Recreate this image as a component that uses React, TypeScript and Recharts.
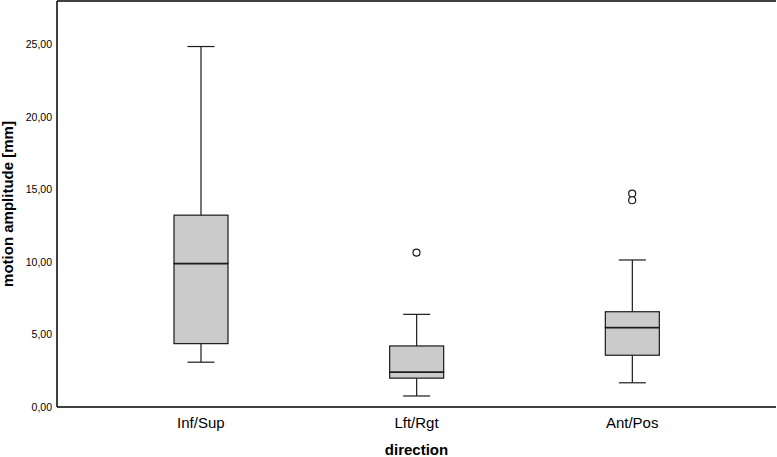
import { ComposedChart, Bar, Scatter, XAxis, YAxis, ReferenceLine } from 'recharts';

const directions: string[] = ['Inf/Sup', 'Lft/Rgt', 'Ant/Pos'];
const whiskerLow: number[] = [3.09, 0.76, 1.67];
const quartile1: number[] = [4.37, 1.99, 3.57];
const medians: number[] = [9.91, 2.42, 5.49];
const quartile3: number[] = [13.23, 4.21, 6.57];
const whiskerHigh: number[] = [24.86, 6.39, 10.14];
const outliersA: (number | null)[] = [null, 10.65, 14.72];
const outliersB: (number | null)[] = [null, null, 14.26];
const yTicks: number[] = [0, 5, 10, 15, 20, 25];
const yMax = 28;

// stacked segments: base -> lower whisker -> lower box -> upper box -> upper whisker
const chartData = directions.map((name, i) => ({
  name,
  base: whiskerLow[i],
  lowWhisker: quartile1[i] - whiskerLow[i],
  lowBox: medians[i] - quartile1[i],
  highBox: quartile3[i] - medians[i],
  highWhisker: whiskerHigh[i] - quartile3[i],
  out1: outliersA[i],
  out2: outliersB[i],
}));

const INK = '#1a1a1a';
const BOX_FILL = '#cbcbcb';

const Empty = () => <g />;

const LowWhisker = (props: any) => {
  const { x, y, width, height } = props;
  const cx = x + width / 2;
  return (
    <g>
      <line x1={cx} x2={cx} y1={y} y2={y + height} stroke={INK} strokeWidth={1.2} />
      <line x1={cx - width / 4} x2={cx + width / 4} y1={y + height} y2={y + height} stroke={INK} strokeWidth={1.2} />
    </g>
  );
};

const HighWhisker = (props: any) => {
  const { x, y, width, height } = props;
  const cx = x + width / 2;
  return (
    <g>
      <line x1={cx} x2={cx} y1={y} y2={y + height} stroke={INK} strokeWidth={1.2} />
      <line x1={cx - width / 4} x2={cx + width / 4} y1={y} y2={y} stroke={INK} strokeWidth={1.2} />
    </g>
  );
};

const LowBox = (props: any) => {
  const { x, y, width, height } = props;
  return (
    <g>
      <rect x={x} y={y} width={width} height={height} fill={BOX_FILL} stroke={INK} strokeWidth={1.2} />
      <line x1={x} x2={x + width} y1={y} y2={y} stroke={INK} strokeWidth={2.2} />
    </g>
  );
};

const HighBox = (props: any) => {
  const { x, y, width, height } = props;
  return <rect x={x} y={y} width={width} height={height} fill={BOX_FILL} stroke={INK} strokeWidth={1.2} />;
};

const Outlier = (key: 'out1' | 'out2') => (props: any) => {
  const { cx, cy, payload } = props;
  if (payload == null || payload[key] == null) return <g />;
  return <circle cx={cx} cy={cy} r={3.5} fill="#fff" stroke={INK} strokeWidth={1.2} />;
};

const fmt = (v: number) => v.toFixed(2).replace('.', ',');

const App = () => {
  return (
    <div style={{ position: 'absolute', left: 0, top: 0, fontFamily: '"Liberation Sans", Arial, sans-serif' }}>
      <ComposedChart
        width={777}
        height={457}
        data={chartData}
        margin={{ top: 1, right: 1, bottom: 0, left: 0 }}
        barSize={54}
      >
        <XAxis
          dataKey="name"
          padding={{ left: 36, right: 36 }}
          tickLine={false}
          tickSize={0}
          tickMargin={10}
          axisLine={{ stroke: '#000', strokeWidth: 1.5 }}
          tick={{ fill: '#000', fontSize: 15 }}
          height={50}
          label={{ value: 'direction', position: 'insideBottom', offset: 2, fill: '#000', fontSize: 15, fontWeight: 'bold' }}
        />
        <YAxis
          domain={[0, yMax]}
          ticks={yTicks}
          tickFormatter={fmt}
          tickLine={false}
          tickSize={0}
          tickMargin={5}
          width={57}
          axisLine={{ stroke: '#000', strokeWidth: 1.5 }}
          tick={{ fill: '#000', fontSize: 10.5 }}
          label={{ value: 'motion amplitude [mm]', angle: -90, position: 'insideLeft', offset: 8, fill: '#000', fontSize: 15, fontWeight: 'bold', style: { textAnchor: 'middle' } }}
        />
        <YAxis yAxisId="right" orientation="right" width={0} tick={false} tickLine={false} axisLine={{ stroke: '#000', strokeWidth: 1.5 }} />
        <ReferenceLine y={yMax} stroke="#000" strokeWidth={1.5} />
        <Bar dataKey="base" stackId="box" shape={<Empty />} isAnimationActive={false} />
        <Bar dataKey="lowWhisker" stackId="box" shape={LowWhisker} isAnimationActive={false} />
        <Bar dataKey="lowBox" stackId="box" shape={LowBox} isAnimationActive={false} />
        <Bar dataKey="highBox" stackId="box" shape={HighBox} isAnimationActive={false} />
        <Bar dataKey="highWhisker" stackId="box" shape={HighWhisker} isAnimationActive={false} />
        <Scatter dataKey="out1" shape={Outlier('out1')} isAnimationActive={false} />
        <Scatter dataKey="out2" shape={Outlier('out2')} isAnimationActive={false} />
      </ComposedChart>
    </div>
  );
};

export default App;
